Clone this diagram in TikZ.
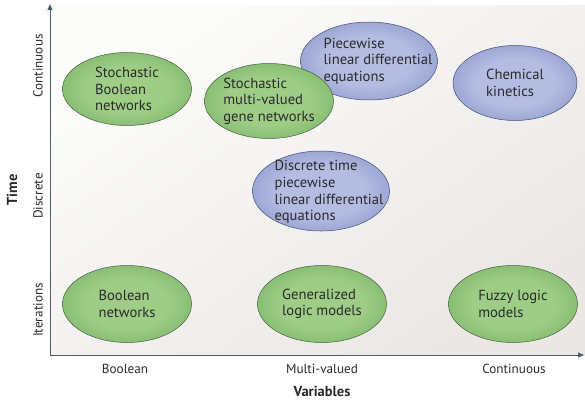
\documentclass[tikz,border=0pt]{standalone}
\usepackage{fontspec}
\setmainfont{PT Sans}
\usetikzlibrary{shapes.geometric,arrows.meta}
\definecolor{gin}{HTML}{9ECD86}
\definecolor{gout}{HTML}{539646}
\definecolor{bin}{HTML}{B4BCE2}
\definecolor{bout}{HTML}{5E6DAD}
\definecolor{gedge}{HTML}{465F40}
\definecolor{bedge}{HTML}{454F78}
\definecolor{axiscol}{HTML}{4F5D69}
\definecolor{txt}{HTML}{2A2A2A}
\definecolor{bglow}{HTML}{EAE7E4}
\definecolor{bghigh}{HTML}{FCFCFB}
\pgfdeclareradialshading{greenball}{\pgfpoint{0bp}{0bp}}{color(0bp)=(gin); color(16bp)=(gin); color(50bp)=(gout)}
\pgfdeclareradialshading{blueball}{\pgfpoint{0bp}{0bp}}{color(0bp)=(bin); color(16bp)=(bin); color(50bp)=(bout)}
\begin{document}
\begin{tikzpicture}[x=1pt,y=-1pt,
  every node/.style={text=txt},
  model/.style={ellipse, inner sep=0pt, line width=0.5pt},
  greenmodel/.style={model, draw=gedge, shading=greenball},
  bluemodel/.style={model, draw=bedge, shading=blueball},
  modeltext/.style={inner sep=0pt, align=left, font=\fontsize{14.6}{16.6}\selectfont},
  axislabel/.style={font=\fontsize{13.2}{15}\selectfont},
  axistitle/.style={font=\fontsize{14.5}{16}\selectfont\bfseries},
  axisline/.style={draw=axiscol, line width=0.9pt, -{Triangle[length=6pt,width=5pt]}}
]
\useasboundingbox (0,0) rectangle (585,400);
% background
\shade[shading=axis, top color=bghigh, bottom color=bglow, shading angle=35] (50,5) rectangle (585,355);
\coordinate (origin) at (50,355);
\coordinate (ytip) at (50,4);
\coordinate (xtip) at (584,355);
\draw[axisline] (origin) -- (ytip);
\draw[axisline] (origin) -- (xtip);
% models
\node[bluemodel, minimum width=137pt, minimum height=78pt] (pwl) at (369,61) {};
\node[modeltext, xshift=9pt] (pwlt) at (pwl) {Piecewise\\linear differential\\equations};
\node[greenmodel, minimum width=129pt, minimum height=73pt] (sbn) at (127,89) {};
\node[modeltext] (sbnt) at (sbn) {Stochastic\\Boolean\\networks};
\node[greenmodel, minimum width=129pt, minimum height=75pt] (smv) at (269,101) {};
\node[modeltext] (smvt) at (smv) {Stochastic\\multi-valued\\gene networks};
\node[bluemodel, minimum width=124pt, minimum height=75pt] (chem) at (515,83) {};
\node[modeltext] (chemt) at (chem) {Chemical\\kinetics};
\node[bluemodel, minimum width=137pt, minimum height=80pt] (dtp) at (321,191) {};
\node[modeltext, xshift=8pt, yshift=-1pt] (dtpt) at (dtp) {Discrete time\\piecewise\\linear differential\\equations};
\node[greenmodel, minimum width=129pt, minimum height=77pt] (bn) at (127,304) {};
\node[modeltext] (bnt) at (bn) {Boolean\\networks};
\node[greenmodel, minimum width=129pt, minimum height=77pt] (glm) at (322,304) {};
\node[modeltext] (glmt) at (glm) {Generalized\\logic models};
\node[greenmodel, minimum width=129pt, minimum height=77pt] (flm) at (513,304) {};
\node[modeltext] (flmt) at (flm) {Fuzzy logic\\models};
% axis labels
\node[axislabel] (xb) at (125,369) {Boolean};
\node[axislabel] (xm) at (322,369) {Multi-valued};
\node[axislabel] (xc) at (514,369) {Continuous};
\node[axistitle] (xt) at (322,391) {Variables};
\node[axislabel, rotate=90] (yc) at (38,66) {Continuous};
\node[axislabel, rotate=90] (yd) at (38,196) {Discrete};
\node[axislabel, rotate=90] (yi) at (38,310) {Iterations};
\node[axistitle, rotate=90] (yt) at (12,190) {Time};
\end{tikzpicture}
\end{document}
